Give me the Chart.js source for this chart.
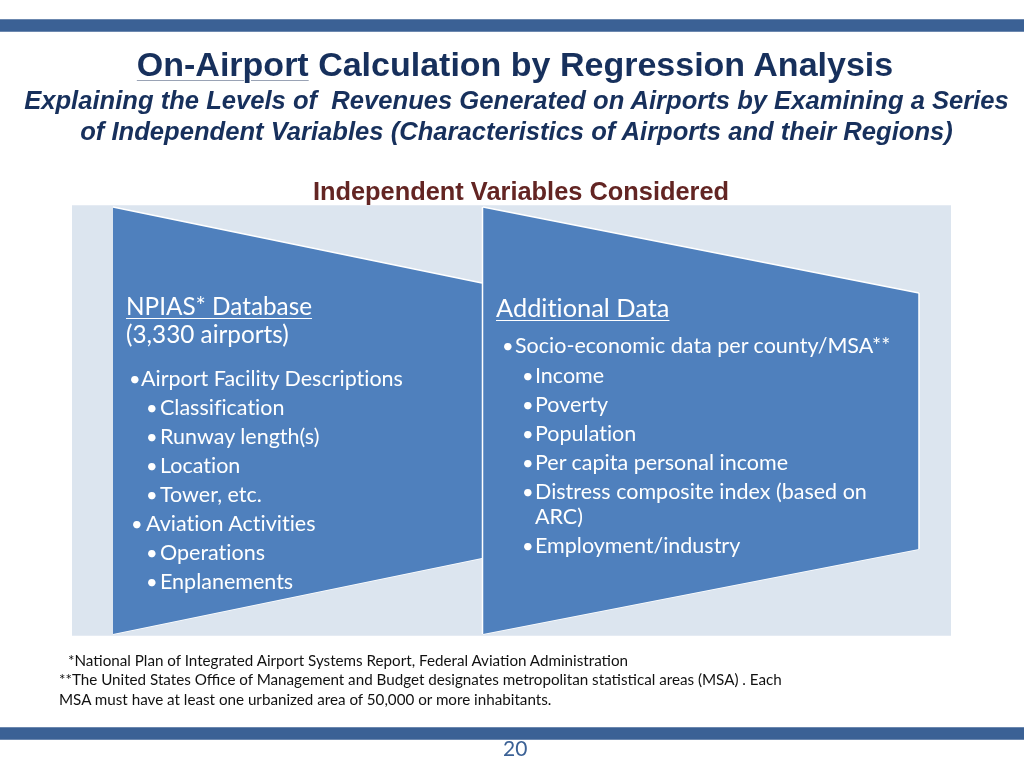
<!DOCTYPE html>
<html>
<head>
<meta charset="utf-8">
<script src="https://cdn.jsdelivr.net/npm/chart.js@4/dist/chart.umd.min.js"></script>
<style>
  html, body { margin: 0; padding: 0; background: #fff; }
  #slide { position: relative; width: 1024px; height: 768px; overflow: hidden; }
  #diagram { position: absolute; left: 0; top: 0; }
  .t { position: absolute; white-space: pre; font-variant-ligatures: none; font-feature-settings: "liga" 0, "clig" 0, "dlig" 0, "calt" 0; }
  .title { font: bold 34px "Liberation Sans", Arial, sans-serif; color: #17305c; left: 0; width: 1030px; text-align: center; }
  .title u { text-decoration-color: #9aa3b5; text-decoration-thickness: 1px; text-underline-offset: 4px; }
  .sub { font: italic bold 25.6px "Liberation Sans", Arial, sans-serif; color: #17305c; left: 0; width: 1033px; text-align: center; }
  .head { font: bold 25.4px "Liberation Sans", Arial, sans-serif; color: #632523; left: 0; width: 1042px; text-align: center; }
  .pan { font-family: Lato, "Open Sans", sans-serif; color: #fff; }
  .pan u { text-decoration-thickness: 1px; text-underline-offset: 3px; }
  .foot { font: 15.2px Lato, "Open Sans", sans-serif; color: #111; }
  .page { font: 21px Lato, sans-serif; color: #3b6195; }
</style>
</head>
<body>
<div id="slide">
  <canvas id="diagram" width="1024" height="768"></canvas>
</div>
<script>
// Slide text
const titleMain = 'On-Airport';
const titleRest = ' Calculation by Regression Analysis';
const subtitleLines = [
    'Explaining the Levels of  Revenues Generated on Airports by Examining a Series',
    'of Independent Variables (Characteristics of Airports and their Regions)'
];
const sectionHeading = 'Independent Variables Considered';

const leftHeading = ['NPIAS* Database', '(3,330 airports)'];
const leftItems = [
    ['Airport Facility Descriptions', 1],
    ['Classification', 2],
    ['Runway length(s)', 2],
    ['Location', 2],
    ['Tower, etc.', 2],
    ['Aviation Activities', 1],
    ['Operations', 2],
    ['Enplanements', 2]
];

const rightHeading = 'Additional Data';
const rightItems = [
    ['Socio-economic data per county/MSA**', 1],
    ['Income', 2],
    ['Poverty', 2],
    ['Population', 2],
    ['Per capita personal income', 2],
    ['Distress composite index (based on|ARC)', 2],
    ['Employment/industry', 2]
];

const footnotes = [
    '*National Plan of Integrated Airport Systems Report, Federal Aviation Administration',
    '**The United States Office of Management and Budget designates metropolitan statistical areas (MSA) . Each',
    'MSA must have at least one urbanized area of 50,000 or more inhabitants.'
];
const pageNumber = '20';

// Shapes of the diagram, in slide units (x right, y down)
const BLUE = '#4f80bd';
const PALE = '#dce5ef';
const BAR = '#3b6195';

function edge(x1, y1, x2, y2) {
    return [{ x: x1, y: y1 }, { x: x2, y: y2 }];
}

// each shape = top edge filled down to its bottom edge
const shapes = [
    { top: edge(483, 207, 919, 293), bottom: edge(483, 634, 919, 549), color: BLUE, border: '#ffffff' },
    { top: edge(113, 207, 482, 283), bottom: edge(113, 634, 482, 558), color: BLUE, border: '#ffffff' },
    { top: edge(72, 206, 951, 206), bottom: edge(72, 635, 951, 635), color: PALE, border: PALE },
    { top: edge(0, 20, 1024, 20), bottom: edge(0, 31, 1024, 31), color: BAR, border: BAR },
    { top: edge(0, 728, 1024, 728), bottom: edge(0, 739, 1024, 739), color: BAR, border: BAR }
];

function buildDatasets() {
    const sets = [];
    // white separators drawn on top
    sets.push({ data: [{ x: 482.5, y: 207 }, { x: 482.5, y: 634 }], borderColor: '#ffffff', borderWidth: 1.5, fill: false });
    sets.push({ data: [{ x: 919, y: 293 }, { x: 919, y: 549 }], borderColor: '#ffffff', borderWidth: 1.5, fill: false });
    shapes.forEach(s => {
        const idx = sets.length;
        sets.push({ data: s.top, borderColor: s.border, borderWidth: 1.5, backgroundColor: s.color, fill: idx + 1 });
        sets.push({ data: s.bottom, borderColor: s.border, borderWidth: 1.5, fill: false });
    });
    return sets.map(d => Object.assign({ showLine: true, pointRadius: 0, tension: 0, clip: false }, d));
}

new Chart(document.getElementById('diagram'), {
    type: 'scatter',
    data: { datasets: buildDatasets() },
    options: {
        responsive: false,
        animation: false,
        devicePixelRatio: 1,
        layout: { padding: 0 },
        plugins: { legend: { display: false }, tooltip: { enabled: false } },
        events: [],
        scales: {
            x: { type: 'linear', min: 0, max: 1024, display: false },
            y: { type: 'linear', min: 0, max: 768, reverse: true, display: false }
        }
    }
});

// Text overlays
const slide = document.getElementById('slide');
function addText(cls, html, cy, lh, left, style) {
    const el = document.createElement('div');
    el.className = 't ' + cls;
    el.innerHTML = html;
    el.style.top = (cy - lh / 2) + 'px';
    el.style.lineHeight = lh + 'px';
    el.style.height = lh + 'px';
    if (left !== null) el.style.left = left + 'px';
    if (style) el.style.cssText += style;
    slide.appendChild(el);
    return el;
}

addText('title', '<u>' + titleMain + '</u>' + titleRest, 64, 38, null);
addText('sub', subtitleLines[0], 100, 30, null);
addText('sub', subtitleLines[1], 131, 30, null);
addText('head', sectionHeading, 191, 28, null);

// left panel
addText('pan', '<u>' + leftHeading[0] + '</u>', 306, 30, 126, 'font-size:24.3px;');
addText('pan', leftHeading[1], 334, 30, 126, 'font-size:24.3px;');
const leftRows = [378, 407, 436, 465, 494, 523, 552, 581];
leftItems.forEach((it, i) => {
    const lvl1 = it[1] === 1;
    const bx = lvl1 ? (i === 0 ? 129 : 131) : 146;
    const tx = lvl1 ? (i === 0 ? 141 : 146) : 160;
    addText('pan', '•', leftRows[i], 28, bx, 'font-size:20px;');
    addText('pan', it[0], leftRows[i], 28, tx, 'font-size:21.5px;');
});

// right panel
addText('pan', '<u>' + rightHeading + '</u>', 307, 30, 496, 'font-size:25.4px;');
const rightRows = [345, 375, 404, 433, 462, 491, 545];
rightItems.forEach((it, i) => {
    const lvl1 = it[1] === 1;
    const bx = lvl1 ? 502 : 522;
    const tx = lvl1 ? 515 : 535;
    const parts = it[0].split('|');
    addText('pan', '•', rightRows[i], 28, bx, 'font-size:20px;');
    parts.forEach((p, j) => addText('pan', p, rightRows[i] + j * 25, 28, tx, 'font-size:21.5px;'));
});

// footnotes
addText('foot', footnotes[0], 660, 18, 68);
addText('foot', footnotes[1], 679, 18, 59);
addText('foot', footnotes[2], 699, 18, 59);
addText('page', pageNumber, 748, 24, 503);
</script>
</body>
</html>
